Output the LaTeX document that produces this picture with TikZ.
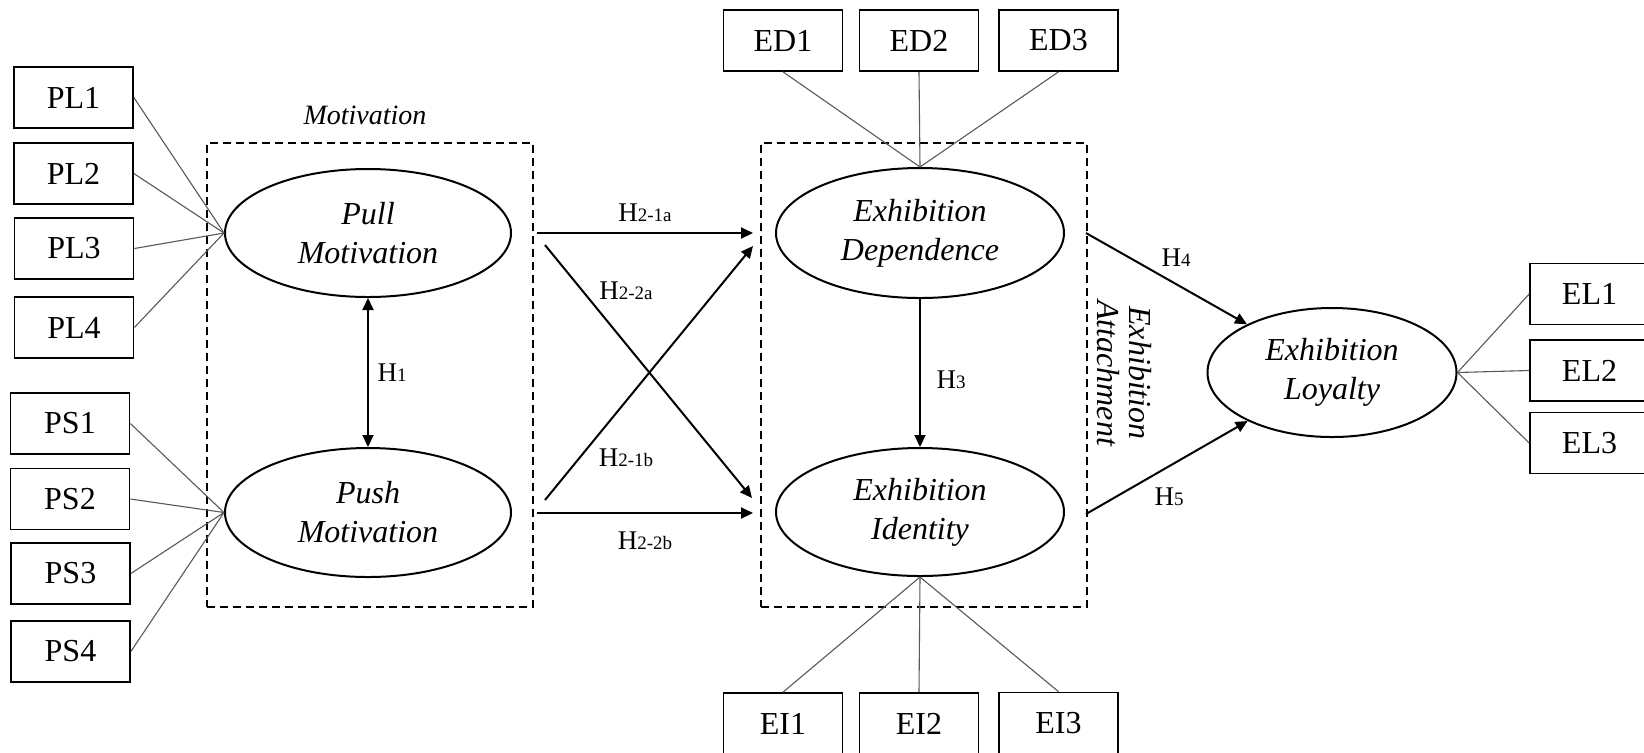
\documentclass[tikz,border=0pt]{standalone}
\usepackage{fontspec}
\setmainfont{Liberation Serif}
\usetikzlibrary{arrows.meta,shapes.geometric}

% hypothesis label: large H with a smaller index on the same baseline
\newcommand{\hyplab}[2]{{\fontsize{13.5}{16}\selectfont #1}{\fontsize{9.5}{11}\selectfont #2}}

\begin{document}
\begin{tikzpicture}[x=0.5pt,y=-0.5pt,
  indbox/.style={draw, line width=0.85pt, minimum width=59.5pt, minimum height=30.5pt,
    inner sep=0pt, font=\fontsize{16}{19}\selectfont},
  latent/.style={draw, ellipse, line width=1pt, inner sep=0pt, align=center,
    font=\fontsize{16}{19.5}\selectfont\itshape},
  loading/.style={draw=black!65, line width=0.55pt},
  effect/.style={draw, line width=1pt, -{Triangle[length=6pt,width=5.5pt]}},
  grpbox/.style={draw, dash pattern=on 4pt off 2.5pt, line width=0.75pt,
    minimum width=163pt, minimum height=232pt, inner sep=0pt},
  hlab/.style={inner sep=0pt}
]
\useasboundingbox (0,0) rectangle (1644,752);
\clip (0,0) rectangle (1644,752);
\fill[white] (0,0) rectangle (1644,752);

% construct groups
\node[grpbox] (motbox) at (370,375) {};
\node[grpbox] (attbox) at (924,375) {};
\node[font=\fontsize{14}{17}\selectfont\itshape] (motlab) at (365,115) {Motivation};
\node[rotate=-90, align=center, font=\fontsize{16}{16}\selectfont\itshape] (attlab) at (1124,373) {Exhibition\\Attachment};

% latent variables
\node[latent, minimum width=143pt, minimum height=64pt] (pull) at (368,233) {Pull\\Motivation};
\node[latent, minimum width=143pt, minimum height=64.5pt] (push) at (368,512.5) {Push\\Motivation};
\node[latent, minimum width=144pt, minimum height=65pt] (dep) at (920,233) {Exhibition\\Dependence};
\node[latent, minimum width=144pt, minimum height=64pt] (ide) at (920,512) {Exhibition\\Identity};
\node[latent, minimum width=124.5pt, minimum height=64.5pt] (loy) at (1332,372.5) {Exhibition\\Loyalty};

% indicators
\node[indbox] (pl1) at (73.5,97.5) {PL1};
\node[indbox] (pl2) at (73.5,173.5) {PL2};
\node[indbox] (pl3) at (74,248.5) {PL3};
\node[indbox] (pl4) at (74,327.5) {PL4};
\node[indbox] (ps1) at (70,423.5) {PS1};
\node[indbox] (ps2) at (70,499) {PS2};
\node[indbox] (ps3) at (70.5,573.5) {PS3};
\node[indbox] (ps4) at (70.5,651.5) {PS4};
\node[indbox] (ed1) at (783,40.5) {ED1};
\node[indbox] (ed2) at (919,40.5) {ED2};
\node[indbox] (ed3) at (1058.5,40.5) {ED3};
\node[indbox] (ei1) at (783,723.5) {EI1};
\node[indbox] (ei2) at (919,723.5) {EI2};
\node[indbox] (ei3) at (1058.5,723) {EI3};
\node[indbox] (el1) at (1589.5,294) {EL1};
\node[indbox] (el2) at (1589.5,370.5) {EL2};
\node[indbox] (el3) at (1589.5,443) {EL3};

% loadings
\foreach \i in {pl1,pl2,pl3,pl4} \draw[loading] (\i.east) -- (pull.west);
\foreach \i in {ps1,ps2,ps3,ps4} \draw[loading] (\i.east) -- (push.west);
\foreach \i in {ed1,ed2,ed3} \draw[loading] (\i.south) -- (dep.north);
\foreach \i in {ei1,ei2,ei3} \draw[loading] (ide.south) -- (\i.north);
\foreach \i in {el1,el2,el3} \draw[loading] (loy.east) -- (\i.west);

% structural paths
\coordinate (a1s) at (537,233);   \coordinate (a1e) at (753,233);
\coordinate (a2s) at (545,245);   \coordinate (a2e) at (752,498);
\coordinate (b1s) at (545,500);   \coordinate (b1e) at (753,246);
\coordinate (b2s) at (537,513);   \coordinate (b2e) at (753,513);
\coordinate (h4s) at (1086,233);
\coordinate (h5s) at (1086,514);

\draw[effect, {Triangle[length=6pt,width=5.5pt]}-{Triangle[length=6pt,width=5.5pt]}] (pull.south) -- (push.north);
\draw[effect] (a1s) -- (a1e);
\draw[effect] (a2s) -- (a2e);
\draw[effect] (b1s) -- (b1e);
\draw[effect] (b2s) -- (b2e);
\draw[effect] (dep.south) -- (ide.north);
\draw[effect] (h4s) -- (loy);
\draw[effect] (h5s) -- (loy);

% hypothesis labels
\node[hlab] (lh1) at (392,373) {\hyplab{H}{1}};
\node[hlab] (lh21a) at (645,213) {\hyplab{H}{2-1a}};
\node[hlab] (lh22a) at (626,291) {\hyplab{H}{2-2a}};
\node[hlab] (lh21b) at (626,458) {\hyplab{H}{2-1b}};
\node[hlab] (lh22b) at (645,541) {\hyplab{H}{2-2b}};
\node[hlab] (lh3) at (951,380) {\hyplab{H}{3}};
\node[hlab] (lh4) at (1176,258) {\hyplab{H}{4}};
\node[hlab] (lh5) at (1169,497) {\hyplab{H}{5}};
\end{tikzpicture}
\end{document}
